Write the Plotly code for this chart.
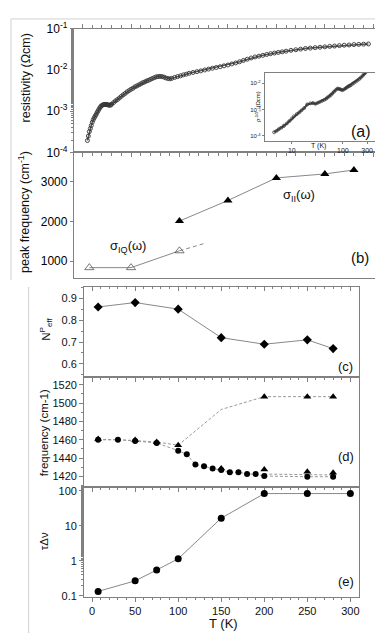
import plotly.graph_objects as go

W, H = 383, 633

# ---------------- data ----------------
# (a) resistivity vs T
rho_T = [5, 6, 7, 8, 9, 10, 11, 12, 13, 14, 15, 16, 17, 18, 19, 20, 21, 22, 23, 24, 25, 26, 27, 28, 29, 30,
         32, 34, 36, 38, 40, 42, 44, 46, 48, 50, 52, 54, 56, 58, 60, 62, 64, 66, 68, 70, 72, 74, 76, 78, 80,
         82, 84, 86, 88, 90, 92, 95, 98, 101, 104, 107, 110, 114, 118, 122, 126, 130, 134, 138, 142, 146, 150,
         154, 158, 162, 166, 170, 174, 178, 182, 186, 190, 194, 198, 202, 206, 210, 215, 220, 225, 230, 235,
         240, 245, 250, 255, 260, 265, 270, 275, 280, 285, 290, 295]
rho_val = [1.95e-4, 2.5e-4, 3.2e-4, 3.8e-4, 4.5e-4, 5.4e-4, 6.2e-4, 6.9e-4, 7.6e-4, 8.3e-4, 9.3e-4, 1.02e-3,
           1.12e-3, 1.23e-3, 1.32e-3, 1.38e-3, 1.43e-3, 1.45e-3, 1.46e-3, 1.46e-3, 1.45e-3, 1.43e-3, 1.41e-3,
           1.40e-3, 1.41e-3, 1.48e-3, 1.62e-3, 1.78e-3, 1.91e-3, 2.09e-3, 2.29e-3, 2.5e-3, 2.7e-3, 2.95e-3,
           3.16e-3, 3.4e-3, 3.6e-3, 3.9e-3, 4.1e-3, 4.35e-3, 4.6e-3, 4.9e-3, 5.1e-3, 5.4e-3, 5.6e-3, 5.9e-3,
           6.2e-3, 6.5e-3, 6.8e-3, 6.9e-3, 7.0e-3, 6.9e-3, 6.7e-3, 6.4e-3, 6.2e-3, 6.1e-3, 6.25e-3, 6.6e-3,
           6.9e-3, 7.2e-3, 7.6e-3, 7.9e-3, 8.3e-3, 8.7e-3, 9.1e-3, 9.5e-3, 1.0e-2, 1.05e-2, 1.1e-2, 1.15e-2,
           1.2e-2, 1.26e-2, 1.32e-2, 1.4e-2, 1.48e-2, 1.58e-2, 1.7e-2, 1.82e-2, 1.95e-2, 2.07e-2, 2.16e-2,
           2.26e-2, 2.37e-2, 2.48e-2, 2.57e-2, 2.66e-2, 2.75e-2, 2.85e-2, 2.99e-2, 3.09e-2, 3.2e-2, 3.31e-2,
           3.39e-2, 3.47e-2, 3.55e-2, 3.63e-2, 3.72e-2, 3.8e-2, 3.89e-2, 3.98e-2, 4.03e-2, 4.12e-2, 4.17e-2,
           4.22e-2, 4.27e-2]

# inset (log-log)
inset_T = [4.5, 5.0, 5.5, 6.2, 7, 8, 9, 10, 11, 12.5, 14, 15.5, 17.5, 20, 23, 26, 29, 32, 35, 39, 43, 47, 50, 54,
           58, 62, 67, 72, 78, 83, 88, 93, 99, 107, 115, 122, 130, 136, 143, 154, 165, 180, 194, 210, 225, 245,
           263, 280, 300]
inset_val = [1.38e-4, 1.55e-4, 1.78e-4, 2.05e-4, 2.4e-4, 3.0e-4, 3.7e-4, 4.6e-4, 5.6e-4, 6.8e-4, 7.9e-4,
             9.4e-4, 1.15e-3, 1.58e-3, 1.74e-3, 1.78e-3, 1.66e-3, 1.8e-3, 1.95e-3, 2.15e-3, 2.34e-3, 2.6e-3,
             2.9e-3, 3.2e-3, 3.6e-3, 4.1e-3, 4.8e-3, 5.5e-3, 6.3e-3, 6.2e-3, 6.0e-3, 5.7e-3, 5.5e-3, 6.0e-3,
             6.6e-3, 7.2e-3, 7.8e-3, 8.1e-3, 8.5e-3, 9.5e-3, 1.05e-2, 1.17e-2, 1.29e-2, 1.46e-2, 1.66e-2,
             1.95e-2, 2.29e-2, 2.6e-2, 3.0e-2]
fit_T = [4.2, 26.4]
fit_val = [1.38e-4, 2.04e-3]

# (b) peak frequency
sII_T = [100, 150, 200, 250, 280]
sII_val = [2010, 2530, 3100, 3200, 3300]
sIQ_T = [7, 50, 100]
sIQ_val = [835, 835, 1260]
sIQ_ext_T = [100, 125]
sIQ_ext_val = [1260, 1440]

# (c) N_eff
c_T = [7, 50, 100, 150, 200, 250, 280]
c_val = [0.86, 0.88, 0.85, 0.72, 0.69, 0.71, 0.67]

# (d) frequency
d_circ_T = [7, 30, 50, 75, 100, 110, 120, 130, 140, 150, 160, 170, 180, 190, 200, 250, 280]
d_circ_val = [1460, 1460, 1458.6, 1456.5, 1448, 1444, 1433, 1431, 1428.5, 1427, 1424.6, 1424.6, 1422.5,
              1422.5, 1420.3, 1419.6, 1419.6]
d_tri_T = [7, 50, 75, 100, 150, 200, 250, 280]
d_tri_val = [1460.7, 1459.6, 1457.5, 1454, 1428.5, 1427.5, 1425, 1424]
d_up_T = [200, 250, 280]
d_up_val = [1507, 1507, 1507]
d_upline_T = [7, 30, 50, 75, 100, 150, 200, 250, 280]
d_upline_val = [1460, 1460, 1459, 1457.5, 1454, 1493, 1507, 1507, 1507]
d_lowline_T = [200, 250, 280]
d_lowline_val = [1422.5, 1422, 1421.5]

# (e) tau * delta nu
e_T = [7, 50, 75, 100, 150, 200, 250, 300]
e_val = [0.135, 0.27, 0.55, 1.15, 16.5, 83, 83, 83]


# ---------------- helpers ----------------
def px(x):
    return x / W


def py(y):
    return 1 - y / H


FONT = "Liberation Sans, Arial, Helvetica, sans-serif"
AX = "#808080"

fig = go.Figure()

# (a) main
fig.add_trace(go.Scatter(x=rho_T, y=rho_val, mode="lines+markers", xaxis="x", yaxis="y",
                         line=dict(color="#555", width=1.5),
                         marker=dict(symbol="circle-open", size=4, color="#333",
                                     line=dict(width=0.9, color="#333"))))
# inset
fig.add_trace(go.Scatter(x=fit_T, y=fit_val, mode="lines", xaxis="x6", yaxis="y6",
                         line=dict(color="#aaa", width=1, dash="dot")))
fig.add_trace(go.Scatter(x=inset_T, y=inset_val, mode="markers+lines", xaxis="x6", yaxis="y6",
                         line=dict(color="#444", width=2),
                         marker=dict(symbol="circle-open", size=3, color="#333",
                                     line=dict(width=0.7, color="#333"))))
# (b)
fig.add_trace(go.Scatter(x=sIQ_ext_T, y=sIQ_ext_val, mode="lines", xaxis="x2", yaxis="y2",
                         line=dict(color="#888", width=1, dash="4px,3px")))
fig.add_trace(go.Scatter(x=sIQ_T, y=sIQ_val, mode="lines+markers", xaxis="x2", yaxis="y2",
                         line=dict(color="#888", width=1),
                         marker=dict(symbol="triangle-up-open", size=8, color="#555",
                                     line=dict(width=0.8, color="#555"))))
fig.add_trace(go.Scatter(x=sII_T, y=sII_val, mode="lines+markers", xaxis="x2", yaxis="y2",
                         line=dict(color="#888", width=1),
                         marker=dict(symbol="triangle-up", size=8, color="#000")))
# (c)
fig.add_trace(go.Scatter(x=c_T, y=c_val, mode="lines+markers", xaxis="x3", yaxis="y3",
                         line=dict(color="#888", width=1),
                         marker=dict(symbol="diamond", size=7, color="#000")))
# (d)
dash_d = dict(color="#999", width=1, dash="3px,2px")
fig.add_trace(go.Scatter(x=d_upline_T, y=d_upline_val, mode="lines", xaxis="x4", yaxis="y4", line=dash_d))
fig.add_trace(go.Scatter(x=d_lowline_T, y=d_lowline_val, mode="lines", xaxis="x4", yaxis="y4", line=dash_d))
fig.add_trace(go.Scatter(x=d_circ_T, y=d_circ_val, mode="lines+markers", xaxis="x4", yaxis="y4",
                         line=dash_d, marker=dict(symbol="circle", size=6, color="#000")))
fig.add_trace(go.Scatter(x=d_tri_T, y=d_tri_val, mode="markers", xaxis="x4", yaxis="y4",
                         marker=dict(symbol="triangle-up", size=7, color="#000")))
fig.add_trace(go.Scatter(x=d_up_T, y=d_up_val, mode="markers", xaxis="x4", yaxis="y4",
                         marker=dict(symbol="triangle-up", size=7, color="#000")))
# (e)
fig.add_trace(go.Scatter(x=e_T, y=e_val, mode="lines+markers", xaxis="x5", yaxis="y5",
                         line=dict(color="#888", width=1),
                         marker=dict(symbol="circle", size=7, color="#000")))

tickfont_top = dict(family=FONT, size=12, color="#000")
tickfont_bot = dict(family=FONT, size=11, color="#111")

top_x = [px(66), px(375)]
bot_x = [px(76.3), px(351.7)]
xr_top = [-9, 309]
xr_bot = [-9.3, 309.8]

common_x = dict(showgrid=False, zeroline=False, showline=True, linecolor=AX, linewidth=1)

fig.update_layout(
    width=W, height=H, autosize=False,
    margin=dict(l=0, r=0, t=0, b=0),
    paper_bgcolor="white", plot_bgcolor="white",
    showlegend=False,
    font=dict(family=FONT, color="#111"),
    # (a)
    xaxis=dict(domain=top_x, range=xr_top, anchor="y", ticks="outside", mirror="ticks",
               tick0=0, dtick=50, ticklen=4, tickcolor=AX, showticklabels=False,
               minor=dict(dtick=10, ticklen=2.5, ticks="outside", tickcolor=AX), **common_x),
    yaxis=dict(domain=[py(139), py(12)], type="log", range=[-4, -1], anchor="x",
               tickvals=[1e-4, 1e-3, 1e-2, 1e-1],
               ticktext=["10<sup>-4</sup>", "10<sup>-3</sup>", "10<sup>-2</sup>", "10<sup>-1</sup>"],
               ticks="outside", ticklen=3, tickcolor=AX, tickfont=tickfont_top, mirror=True,
               minor=dict(ticks="outside", ticklen=2, tickcolor=AX),
               showgrid=False, zeroline=False, showline=True, linecolor=AX),
    # (b)
    xaxis2=dict(domain=top_x, range=xr_top, anchor="y2", ticks="", showticklabels=False,
                mirror=True, **common_x),
    yaxis2=dict(domain=[py(268), py(139)], range=[568, 3741], anchor="x2",
                tickvals=[1000, 2000, 3000], ticks="outside", ticklen=3, tickcolor=AX,
                tickfont=tickfont_top, mirror=True,
                showgrid=False, zeroline=False, showline=True, linecolor=AX),
    # (c)
    xaxis3=dict(domain=bot_x, range=xr_bot, anchor="y3", ticks="outside", dtick=50, tick0=0,
                ticklen=4, tickcolor=AX, showticklabels=False, mirror=True,
                minor=dict(dtick=10, ticklen=2.5, ticks="outside", tickcolor=AX), **common_x),
    yaxis3=dict(domain=[py(369), py(276.7)], range=[0.542, 0.9524], anchor="x3",
                tickvals=[0.6, 0.7, 0.8, 0.9], ticktext=["0.6", "0.7", "0.8", "0.9"],
                ticks="outside", ticklen=4, tickcolor=AX, tickfont=tickfont_bot, mirror=True,
                minor=dict(dtick=0.05, tick0=0.05, ticklen=2, ticks="outside", tickcolor=AX),
                showgrid=False, zeroline=False, showline=True, linecolor=AX),
    # (d)
    xaxis4=dict(domain=bot_x, range=xr_bot, anchor="y4", ticks="outside", dtick=50, tick0=0,
                ticklen=4, tickcolor=AX, showticklabels=False, mirror=True,
                minor=dict(dtick=10, ticklen=2.5, ticks="outside", tickcolor=AX), **common_x),
    yaxis4=dict(domain=[py(481.7), py(369)], range=[1408.9, 1528.8], anchor="x4",
                tickvals=[1420, 1440, 1460, 1480, 1500, 1520],
                ticks="outside", ticklen=4, tickcolor=AX, tickfont=tickfont_bot, mirror=True,
                minor=dict(dtick=10, tick0=0, ticklen=2, ticks="outside", tickcolor=AX),
                showgrid=False, zeroline=False, showline=True, linecolor=AX),
    # (e)
    xaxis5=dict(domain=bot_x, range=xr_bot, anchor="y5", ticks="outside", dtick=50, tick0=0,
                ticklen=4, tickcolor=AX, tickfont=tickfont_bot, mirror=True,
                minor=dict(dtick=10, ticklen=2.5, ticks="outside", tickcolor=AX), **common_x),
    yaxis5=dict(domain=[py(595), py(481.7)], type="log", range=[-1.028, 2.12], anchor="x5",
                tickvals=[0.1, 1, 10, 100], ticktext=["0.1", "1", "10", "100"],
                ticks="outside", ticklen=4, tickcolor=AX, tickfont=tickfont_bot, mirror=True,
                minor=dict(ticks="outside", ticklen=2, tickcolor=AX),
                showgrid=False, zeroline=False, showline=True, linecolor=AX),
    # inset
    xaxis6=dict(domain=[px(257.5), px(371)], type="log", range=[0.47, 2.69], anchor="y6",
                tickvals=[10, 100, 300], ticktext=["10", "100", "300"],
                ticks="outside", ticklen=2, tickcolor=AX, mirror=True,
                tickfont=dict(family=FONT, size=7, color="#222"), **common_x),
    yaxis6=dict(domain=[py(127.7), py(57)], type="log", range=[-4.21, -1.59], anchor="x6",
                tickvals=[1e-4, 1e-3, 1e-2],
                ticktext=["10<sup>-4</sup>", "10<sup>-3</sup>", "10<sup>-2</sup>"],
                ticks="outside", ticklen=2, tickcolor=AX, mirror=True,
                tickfont=dict(family=FONT, size=6, color="#222"),
                showgrid=False, zeroline=False, showline=True, linecolor=AX),
    # top ticks of (c) pointing down
    xaxis7=dict(domain=bot_x, range=xr_bot, overlaying="x3", anchor="y3", side="top",
                ticks="inside", dtick=50, tick0=0, ticklen=4, tickcolor=AX, showticklabels=False,
                minor=dict(dtick=10, ticklen=2.5, ticks="inside", tickcolor=AX),
                showgrid=False, zeroline=False, showline=False),
)

# dummy trace so xaxis7 is drawn
fig.add_trace(go.Scatter(x=[None], y=[None], xaxis="x7", yaxis="y3", showlegend=False))


def ann(text, x, y, size, angle=0, color="#111"):
    fig.add_annotation(text=text, x=px(x), y=py(y), xref="paper", yref="paper",
                       showarrow=False, xanchor="center", yanchor="middle", textangle=angle,
                       font=dict(family=FONT, size=size, color=color))


ann("resistivity (Ωcm)", 18, 62, 12.5, -90)
ann("peak frequency (cm<sup>-1</sup>)", 16, 200, 12.5, -90)
ann("N<sup>P</sup><sub>eff</sub>", 38, 320, 11.5, -90)
ann("frequency (cm-1)", 36, 426, 11.5, -90)
ann("τΔν", 36, 538, 11.5, -90)
ann("T (K)", 216, 622, 13)
ann("(a)", 354, 117, 16)
ann("(b)", 353, 247, 15)
ann("(c)", 338, 359, 13)
ann("(d)", 339, 451, 13)
ann("(e)", 339, 579, 13)
ann("σ<sub>II</sub>(ω)", 292, 183, 13)
ann("σ<sub>IQ</sub>(ω)", 120, 235, 13)
ann("T (K)", 311, 132, 7)
ann("ρ<sup>-1/2</sup><sub>c</sub> (Ωcm)", 251, 92, 6, -90)

# faint figure frames
for x0, y0, x1, y1 in [(3, 2, 383, 2), (3, 2, 3, 270), (20.7, 277, 20.7, 633)]:
    fig.add_shape(type="line", xref="paper", yref="paper", x0=px(x0), y0=py(y0), x1=px(x1), y1=py(y1),
                  line=dict(color="#d0d0d0", width=1))

fig.write_html("out.html")
